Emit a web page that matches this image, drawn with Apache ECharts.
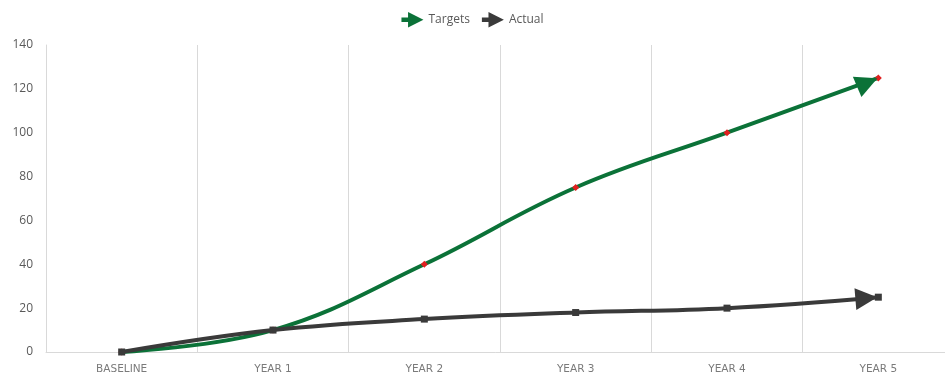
<!DOCTYPE html>
<html>
<head>
<meta charset="utf-8">
<script src="https://cdn.jsdelivr.net/npm/echarts@6/dist/echarts.min.js"></script>
<style>
  html, body { margin: 0; padding: 0; background: #fff; }
  #chart { width: 945px; height: 377px; }
</style>
</head>
<body>
<div id="chart"></div>
<script>
const categories = ['BASELINE', 'YEAR 1', 'YEAR 2', 'YEAR 3', 'YEAR 4', 'YEAR 5']
const targets = [0, 10, 40, 75, 100, 125]
const actual = [0, 10, 15, 18, 20, 25]
const yTicks = { min: 0, max: 140, interval: 20 }

const GREEN = '#0b7238'
const DARK = '#3a3a3a'
// triangle with a short tail, pointing right
const legendArrow = 'path://M0,5 L6,5 L6,0 L20,7 L6,14 L6,9 L0,9 Z'

function arrowMark (data, color) {
    const last = data.length - 1
    return {
        silent: true,
        symbol: 'triangle',
        symbolSize: [22, 22],
        itemStyle: { color: color },
        label: { show: false },
        data: [{ coord: [last, data[last]] }]
    }
}

function getOption () {
    return {
        animation: false,
        grid: { left: 46, width: 908, top: 45, bottom: 25, outerBoundsMode: 'none' },
        legend: {
            top: 7,
            left: 'center',
            itemGap: 12,
            itemWidth: 22,
            itemHeight: 16,
            textStyle: { color: '#595959', fontSize: 12, fontFamily: 'Open Sans' },
            data: [
                { name: 'Targets', icon: legendArrow, itemStyle: { color: GREEN } },
                { name: 'Actual', icon: legendArrow, itemStyle: { color: DARK } }
            ]
        },
        xAxis: {
            type: 'category',
            data: categories,
            boundaryGap: true,
            axisLine: { lineStyle: { color: '#d9d9d9' } },
            axisTick: { show: false },
            splitLine: { show: true, lineStyle: { color: '#d9d9d9' } },
            axisLabel: { color: '#7a7a7a', fontSize: 10.5, margin: 12, fontFamily: 'DejaVu Sans' }
        },
        yAxis: {
            type: 'value',
            min: yTicks.min,
            max: yTicks.max,
            interval: yTicks.interval,
            axisLine: { show: true, lineStyle: { color: '#d9d9d9' } },
            axisTick: { show: false },
            splitLine: { show: false },
            axisLabel: { color: '#595959', fontSize: 12, margin: 13, fontFamily: 'Open Sans' }
        },
        series: [
            {
                name: 'Targets',
                type: 'line',
                data: targets,
                smooth: 0.4,
                symbol: 'diamond',
                symbolSize: 7,
                itemStyle: { color: '#e02020', borderWidth: 0 },
                lineStyle: { color: GREEN, width: 4 },
                markPoint: arrowMark(targets, GREEN),
                z: 2
            },
            {
                name: 'Actual',
                type: 'line',
                data: actual,
                smooth: 0.4,
                symbol: 'rect',
                symbolSize: 7,
                itemStyle: { color: DARK, borderWidth: 0 },
                lineStyle: { color: DARK, width: 4 },
                markPoint: arrowMark(actual, DARK),
                z: 3
            }
        ]
    }
}

const chart = echarts.init(document.getElementById('chart'), null, { renderer: 'canvas' })
chart.setOption(getOption())

// orient the end arrows along the last segment and pull them back from the end point
function orient (data, color) {
    const n = data.length
    const a = chart.convertToPixel({ gridIndex: 0 }, [n - 2, data[n - 2]])
    const b = chart.convertToPixel({ gridIndex: 0 }, [n - 1, data[n - 1]])
    let ang = Math.atan2(a[1] - b[1], b[0] - a[0])
    ang = ang * 1.15
    const back = 12
    const m = arrowMark(data, color)
    m.symbolRotate = ang * 180 / Math.PI - 90
    m.symbolOffset = [-back * Math.cos(ang), back * Math.sin(ang)]
    return m
}
chart.setOption({
    series: [
        { name: 'Targets', markPoint: orient(targets, GREEN) },
        { name: 'Actual', markPoint: orient(actual, DARK) }
    ]
})
</script>
</body>
</html>
